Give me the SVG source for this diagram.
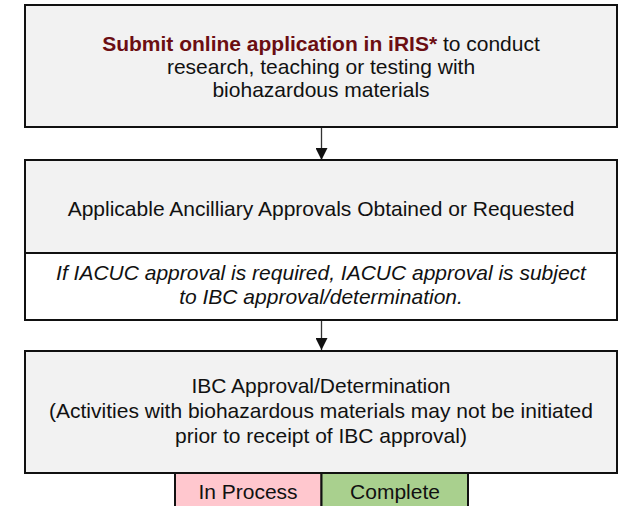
<svg xmlns="http://www.w3.org/2000/svg" width="626" height="506" viewBox="0 0 626 506">
<defs>
<style>
text{font-family:"Liberation Sans",Arial,sans-serif;font-size:21px;fill:#111;text-anchor:middle}
.box{fill:#f2f2f2;stroke:#111;stroke-width:2}
.wbox{fill:#fff;stroke:#111;stroke-width:2}
.conn{stroke:#333;stroke-width:1.3;fill:none}
.red{fill:#6b0e12;font-weight:bold}
.it{font-style:italic}
</style>
<marker id="ah" markerWidth="12" markerHeight="12" viewBox="0 0 12 12" refX="12" refY="6" orient="auto" markerUnits="userSpaceOnUse">
<path d="M0,0 L12,6 L0,12 Z" fill="#111"/>
</marker>
</defs>
<rect width="626" height="506" fill="#fff"/>
<g id="connectors">
<line class="conn" x1="321.5" y1="127" x2="321.5" y2="160" marker-end="url(#ah)"/>
<line class="conn" x1="321.5" y1="320" x2="321.5" y2="350" marker-end="url(#ah)"/>
</g>
<g id="submit">
<rect class="box" x="25" y="5" width="592" height="122"/>
<text x="321" y="51"><tspan class="red">Submit online application in iRIS*</tspan> to conduct</text>
<text x="321" y="74">research, teaching or testing with</text>
<text x="321" y="97">biohazardous materials</text>
</g>
<g id="ancillary">
<rect class="box" x="25" y="160" width="592" height="93"/>
<rect class="wbox" x="25" y="253" width="592" height="67"/>
<text x="321" y="215.5">Applicable Ancilliary Approvals Obtained or Requested</text>
<text class="it" x="321" y="280">If IACUC approval is required, IACUC approval is subject</text>
<text class="it" x="321" y="304">to IBC approval/determination.</text>
</g>
<g id="ibc">
<rect class="box" x="25" y="351" width="592" height="122"/>
<text x="321" y="392.5">IBC Approval/Determination</text>
<text x="321" y="418">(Activities with biohazardous materials may not be initiated</text>
<text x="321" y="443">prior to receipt of IBC approval)</text>
</g>
<g id="inprocess">
<rect x="175" y="473" width="146.5" height="40" fill="#ffc7ce" stroke="#111" stroke-width="2"/>
<text x="248" y="498.5">In Process</text>
</g>
<g id="complete">
<rect x="321.5" y="473" width="146.5" height="40" fill="#a9d08e" stroke="#111" stroke-width="2"/>
<text x="395" y="498.5">Complete</text>
</g>
</svg>
